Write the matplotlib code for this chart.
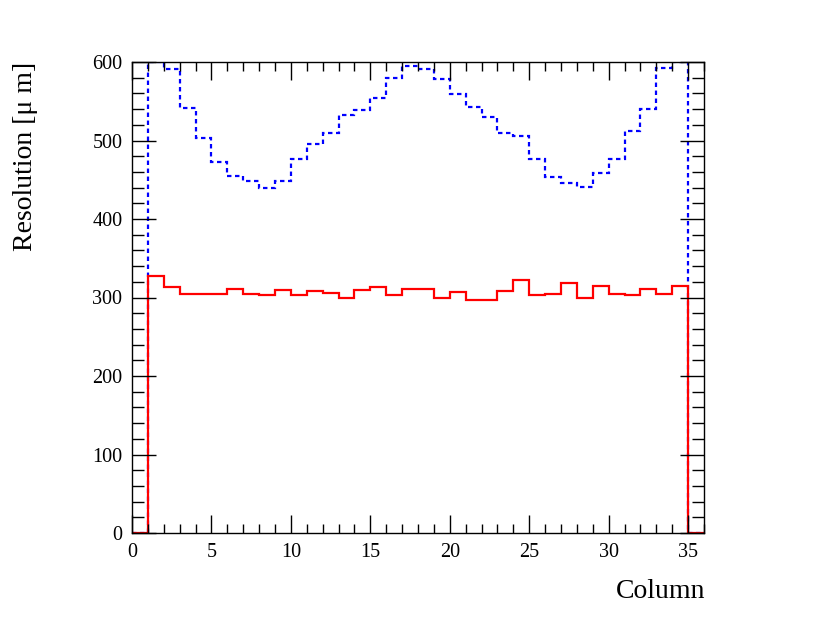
import matplotlib
matplotlib.use("Agg")
import matplotlib.pyplot as plt
import numpy as np

# bin edges: columns 0..36, one bin per column
edges = np.arange(0, 37)

# red (solid) resolution per column
res_red = [0, 327, 314, 305, 304, 304, 311, 305, 303, 309, 303, 308, 306, 300,
           309, 313, 303, 311, 311, 299, 307, 297, 297, 308, 322, 303, 305, 319,
           299, 315, 305, 303, 311, 305, 315, 0]

# blue (dotted) resolution per column
res_blue = [0, 600, 591, 542, 503, 473, 455, 449, 440, 449, 477, 495, 510, 532,
            539, 554, 579, 595, 591, 578, 559, 543, 530, 509, 506, 476, 453, 446,
            441, 459, 476, 512, 540, 592, 600, 0]

plt.rcParams["font.family"] = ["Liberation Serif", "DejaVu Serif"]

fig = plt.figure(figsize=(8.3, 6.28), dpi=100)
ax = fig.add_axes([132 / 830, 1 - 533 / 628, (704 - 132) / 830, (533 - 62) / 628])

ax.stairs(res_blue, edges, color="blue", linewidth=1.6, linestyle=(0, (2, 1.6)))
ax.stairs(res_red, edges, color="red", linewidth=1.6)

ax.set_xlim(0, 36)
ax.set_ylim(0, 600)
ax.set_xticks(np.arange(0, 36, 5))
ax.set_xticks(np.arange(0, 37, 1), minor=True)
ax.set_yticks(np.arange(0, 601, 100))
ax.set_yticks(np.arange(0, 601, 20), minor=True)

ax.tick_params(which="both", direction="in", top=True, right=True, labelsize=14.5, width=1)
ax.tick_params(axis="x", which="major", length=13, pad=7)
ax.tick_params(axis="x", which="minor", length=6.5)
ax.tick_params(axis="y", which="major", length=17, pad=7)
ax.tick_params(axis="y", which="minor", length=8.5)
for s in ax.spines.values():
    s.set_linewidth(1)

fig.text(25 / 830, 1 - 62 / 628, "Resolution [μ m]", rotation=90,
         ha="center", va="top", fontsize=20)
fig.text(705 / 830, 1 - 592 / 628, "Column", ha="right", va="center", fontsize=20)

plt.savefig("out.png", dpi=100)
